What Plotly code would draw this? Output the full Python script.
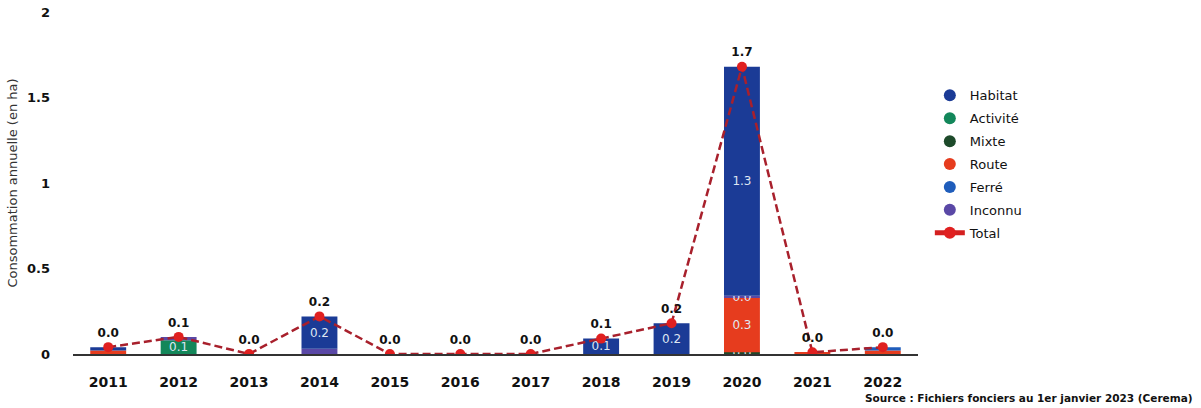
import plotly.graph_objects as go

years = ["2011", "2012", "2013", "2014", "2015", "2016", "2017", "2018", "2019", "2020", "2021", "2022"]

# Stacked components (ha), stacking order bottom-up
mixte    = [0.0, 0.0, 0.0, 0.0, 0.0, 0.0, 0.0, 0.0, 0.0, 0.01, 0.0, 0.0]
route    = [0.02, 0.0, 0.0, 0.0, 0.0, 0.0, 0.0, 0.0, 0.0, 0.32, 0.01, 0.02]
activite = [0.0, 0.08, 0.0, 0.0, 0.0, 0.0, 0.0, 0.0, 0.0, 0.0, 0.0, 0.0]
inconnu  = [0.0, 0.02, 0.0, 0.03, 0.0, 0.0, 0.0, 0.0, 0.0, 0.01, 0.0, 0.0]
habitat  = [0.02, 0.0, 0.0, 0.19, 0.0, 0.0, 0.0, 0.09, 0.18, 1.34, 0.0, 0.0]
ferre    = [0.0, 0.0, 0.0, 0.0, 0.0, 0.0, 0.0, 0.0, 0.0, 0.0, 0.0, 0.02]
total    = [0.04, 0.10, 0.0, 0.22, 0.0, 0.0, 0.0, 0.09, 0.18, 1.68, 0.01, 0.04]

colors = {
    "Habitat": "#1b3b96",
    "Activité": "#13875a",
    "Mixte": "#1d4a2a",
    "Route": "#e63c1e",
    "Ferré": "#1f5dbb",
    "Inconnu": "#5a48a6",
}

stack = [("Mixte", mixte), ("Route", route), ("Activité", activite),
         ("Inconnu", inconnu), ("Habitat", habitat), ("Ferré", ferre)]

fig = go.Figure()

for name, vals in stack:
    txt = [f"{v:.1f}" if (v >= 0.05 or (t >= 1 and v > 0)) else "" for v, t in zip(vals, total)]
    fig.add_trace(go.Bar(
        x=years, y=vals, name=name, showlegend=False,
        marker=dict(color=colors[name], line=dict(width=0)),
        text=txt, textposition="inside", insidetextanchor="middle",
        textfont=dict(family="DejaVu Sans", size=12, color="#dfe6f2"),
        hoverinfo="skip",
    ))

fig.add_trace(go.Scatter(
    x=years, y=total, name="Total", mode="lines+markers+text",
    line=dict(color="#a8202c", width=2.5, dash="8px,4px"),
    marker=dict(color="#e02020", size=10),
    text=[f"<b>{v:.1f}</b>" for v in total], textposition="top center",
    textfont=dict(family="DejaVu Sans", size=12, color="#111"),
    showlegend=False,
))

# Legend entries (circle symbols)
for name in ["Habitat", "Activité", "Mixte", "Route", "Ferré", "Inconnu"]:
    fig.add_trace(go.Scatter(
        x=[None], y=[None], mode="markers", name=name, legendgroup=name,
        marker=dict(color=colors[name], size=13, symbol="circle"),
    ))
fig.add_trace(go.Scatter(
    x=[None], y=[None], mode="lines+markers", name="Total", legendgroup="Total",
    line=dict(color="#d42020", width=3),
    marker=dict(color="#e02020", size=9),
))

fig.update_layout(
    barmode="relative",
    bargap=0.49,
    width=1201, height=408,
    margin=dict(l=73, r=283, t=12, b=54),
    plot_bgcolor="white", paper_bgcolor="white",
    font=dict(family="DejaVu Sans", color="#111"),
    uniformtext=dict(mode="show", minsize=12),
    legend=dict(x=1.014, y=0.80, xanchor="left", yanchor="top",
                font=dict(size=13, family="DejaVu Sans", color="#111"),
                traceorder="grouped", tracegroupgap=3, itemsizing="constant"),
    xaxis=dict(range=[-0.5, 11.5], showgrid=False, showline=True, linecolor="#333", linewidth=1.5,
               ticks="", tickfont=dict(size=14, family="DejaVu Sans", weight="bold"),
               ticklabelstandoff=14, automargin=False),
    yaxis=dict(range=[0, 2], showgrid=False, zeroline=False,
               tickvals=[0, 0.5, 1, 1.5, 2], ticktext=["0", "0.5", "1", "1.5", "2"],
               tickfont=dict(size=13, family="DejaVu Sans", weight="bold"),
               ticklabelstandoff=22, automargin=False,
               title=dict(text="Consommation annuelle (en ha)", standoff=6,
                          font=dict(size=13, family="DejaVu Sans", color="#333"))),
    annotations=[dict(
        text="<b>Source : Fichiers fonciers au 1er janvier 2023 (Cerema)</b>",
        xref="paper", yref="paper", x=1.328, y=-0.129, xanchor="right", yanchor="middle",
        showarrow=False, font=dict(size=10.5, family="DejaVu Sans", color="#111"),
    )],
)

fig.write_html("out.html", config={"displayModeBar": False},
               post_script="document.body.style.margin='0';")
